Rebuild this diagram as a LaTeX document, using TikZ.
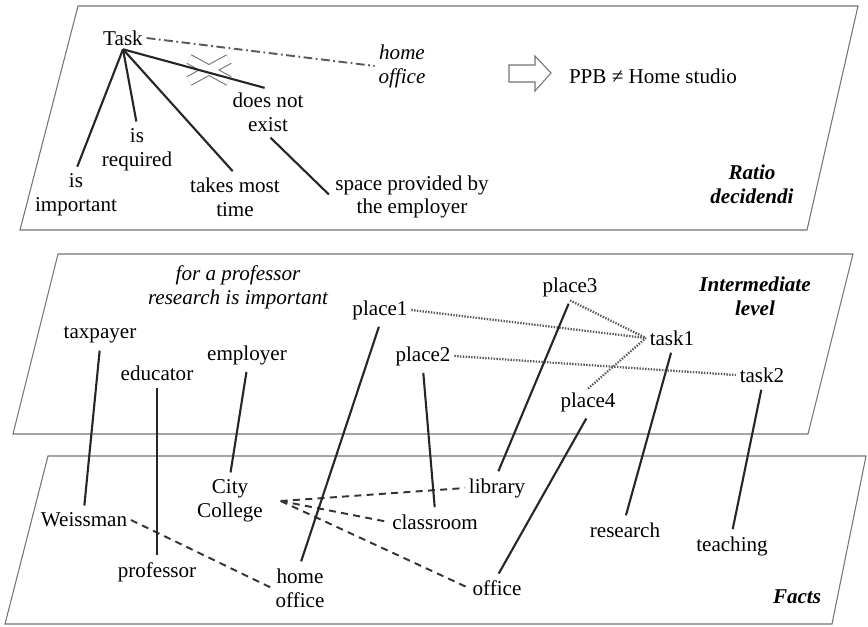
\documentclass[tikz,border=0pt]{standalone}
\usepackage{fontspec}
\setmainfont{Liberation Serif}
\usetikzlibrary{positioning}

\begin{document}
\begin{tikzpicture}[x=0.02cm,y=-0.02cm,
      every node/.style={font=\fontsize{12}{13.6}\selectfont, align=center, inner sep=2pt},
      plane/.style={draw=black!55, line width=0.6pt},
      link/.style={draw=black!85, line width=1.2pt, shorten <=2pt, shorten >=2pt},
      dotlink/.style={draw=black!65, line width=1.3pt, dash pattern=on 0.8pt off 0.8pt},
      dashlink/.style={draw=black!80, line width=1.1pt, dash pattern=on 4pt off 3pt},
      dotdash/.style={draw=black!65, line width=1.1pt, dash pattern=on 5pt off 2pt on 1pt off 2pt},
      level/.style={font=\fontsize{12}{13.6}\selectfont\bfseries\itshape},
      remark/.style={font=\fontsize{12}{13.6}\selectfont\itshape}]
      \useasboundingbox (0,0) rectangle (868,626);
      % the three levels
      \draw[plane] (78,6) -- (858,6) -- (807,230) -- (20,230) -- cycle;
      \draw[plane] (58,254) -- (853,254) -- (808,434) -- (13,434) -- cycle;
      \draw[plane] (48,456) -- (866,456) -- (832,624) -- (5,624) -- cycle;

      % ratio decidendi
      \node (task) at (123,38) {Task};
      \node[remark] (homeoff) at (402,66) {home\\office};
      \node (dne) at (268,112) {does not\\exist};
      \node (req) at (137,150) {is\\required};
      \node (imp) at (76,195) {is\\important};
      \node (most) at (235,197) {takes most\\time};
      \node (space) at (412,197) {space provided by\\the employer};
      \node (ppb) at (653,76) {PPB ≠ Home studio};
      \node[level] (ratio) at (752,184) {Ratio\\decidendi};

      % intermediate level
      \node[remark] (note) at (238,287) {for a professor\\research is important};
      \node (taxpayer) at (100,335) {taxpayer};
      \node (educator) at (157,373) {educator};
      \node (employer) at (247,355) {employer};
      \node (place1) at (380,310) {place1};
      \node (place2) at (423,356) {place2};
      \node (place3) at (570,287) {place3};
      \node (place4) at (588,402) {place4};
      \node (task1) at (672,338) {task1};
      \node (task2) at (762,375) {task2};
      \node[level] (inter) at (755,296) {Intermediate\\level};

      % facts
      \node (weissman) at (84,520) {Weissman};
      \node (professor) at (157,572) {professor};
      \node (city) at (230,501) {City\\College};
      \node (home) at (300,588) {home\\office};
      \node (classroom) at (435,522) {classroom};
      \node (library) at (497,488) {library};
      \node (office) at (497,588) {office};
      \node (research) at (625,530) {research};
      \node (teaching) at (732,546) {teaching};
      \node[level] (facts) at (797,597) {Facts};

      % crossed out link and the conclusion arrow
      \draw[black!55, line width=6pt] (189,59) -- (229,81) (189,81) -- (229,59);
      \draw[white, line width=4.8pt] (189,59) -- (229,81) (189,81) -- (229,59);
      \draw[black!55, line width=0.6pt, fill=white]
        (509,65) -- (535,65) -- (535,56) -- (551,73) -- (535,91) -- (535,82) -- (509,82) -- cycle;

      \draw[dotdash] (task.east) -- (homeoff.west);
      \draw[link, shorten <=0pt] (task.south) -- (imp.north);
      \draw[link, shorten <=0pt] (task.south) -- (req.north);
      \draw[link, shorten <=0pt] (task.south) -- (most.north);
      \draw[link, shorten <=0pt] (task.south) -- (dne.north);
      \draw[link] (dne.south) -- (space.west);

      \draw[dotlink] (place1.east) -- (task1.west);
      \draw[dotlink] (place3.south) -- (task1.west);
      \draw[dotlink] (place4.north) -- (task1.west);
      \draw[dotlink] (place2.east) -- (task2.west);

      \draw[dashlink] (weissman.east) -- (home.west);
      \draw[dashlink] ([xshift=8pt]city.east) -- (library.west);
      \draw[dashlink] ([xshift=8pt]city.east) -- (classroom.west);
      \draw[dashlink] ([xshift=8pt]city.east) -- (office.west);

      \draw[link] (taxpayer.south) -- (weissman.north);
      \draw[link] (educator.south) -- (professor.north);
      \draw[link] (employer.south) -- (city.north);
      \draw[link] (place1.south) -- (home.north);
      \draw[link] (place2.south) -- (classroom.north);
      \draw[link] (place3.south) -- (library.north);
      \draw[link] (place4.south) -- (office.north);
      \draw[link] (task1.south) -- (research.north);
      \draw[link] (task2.south) -- (teaching.north);
\end{tikzpicture}
\end{document}
